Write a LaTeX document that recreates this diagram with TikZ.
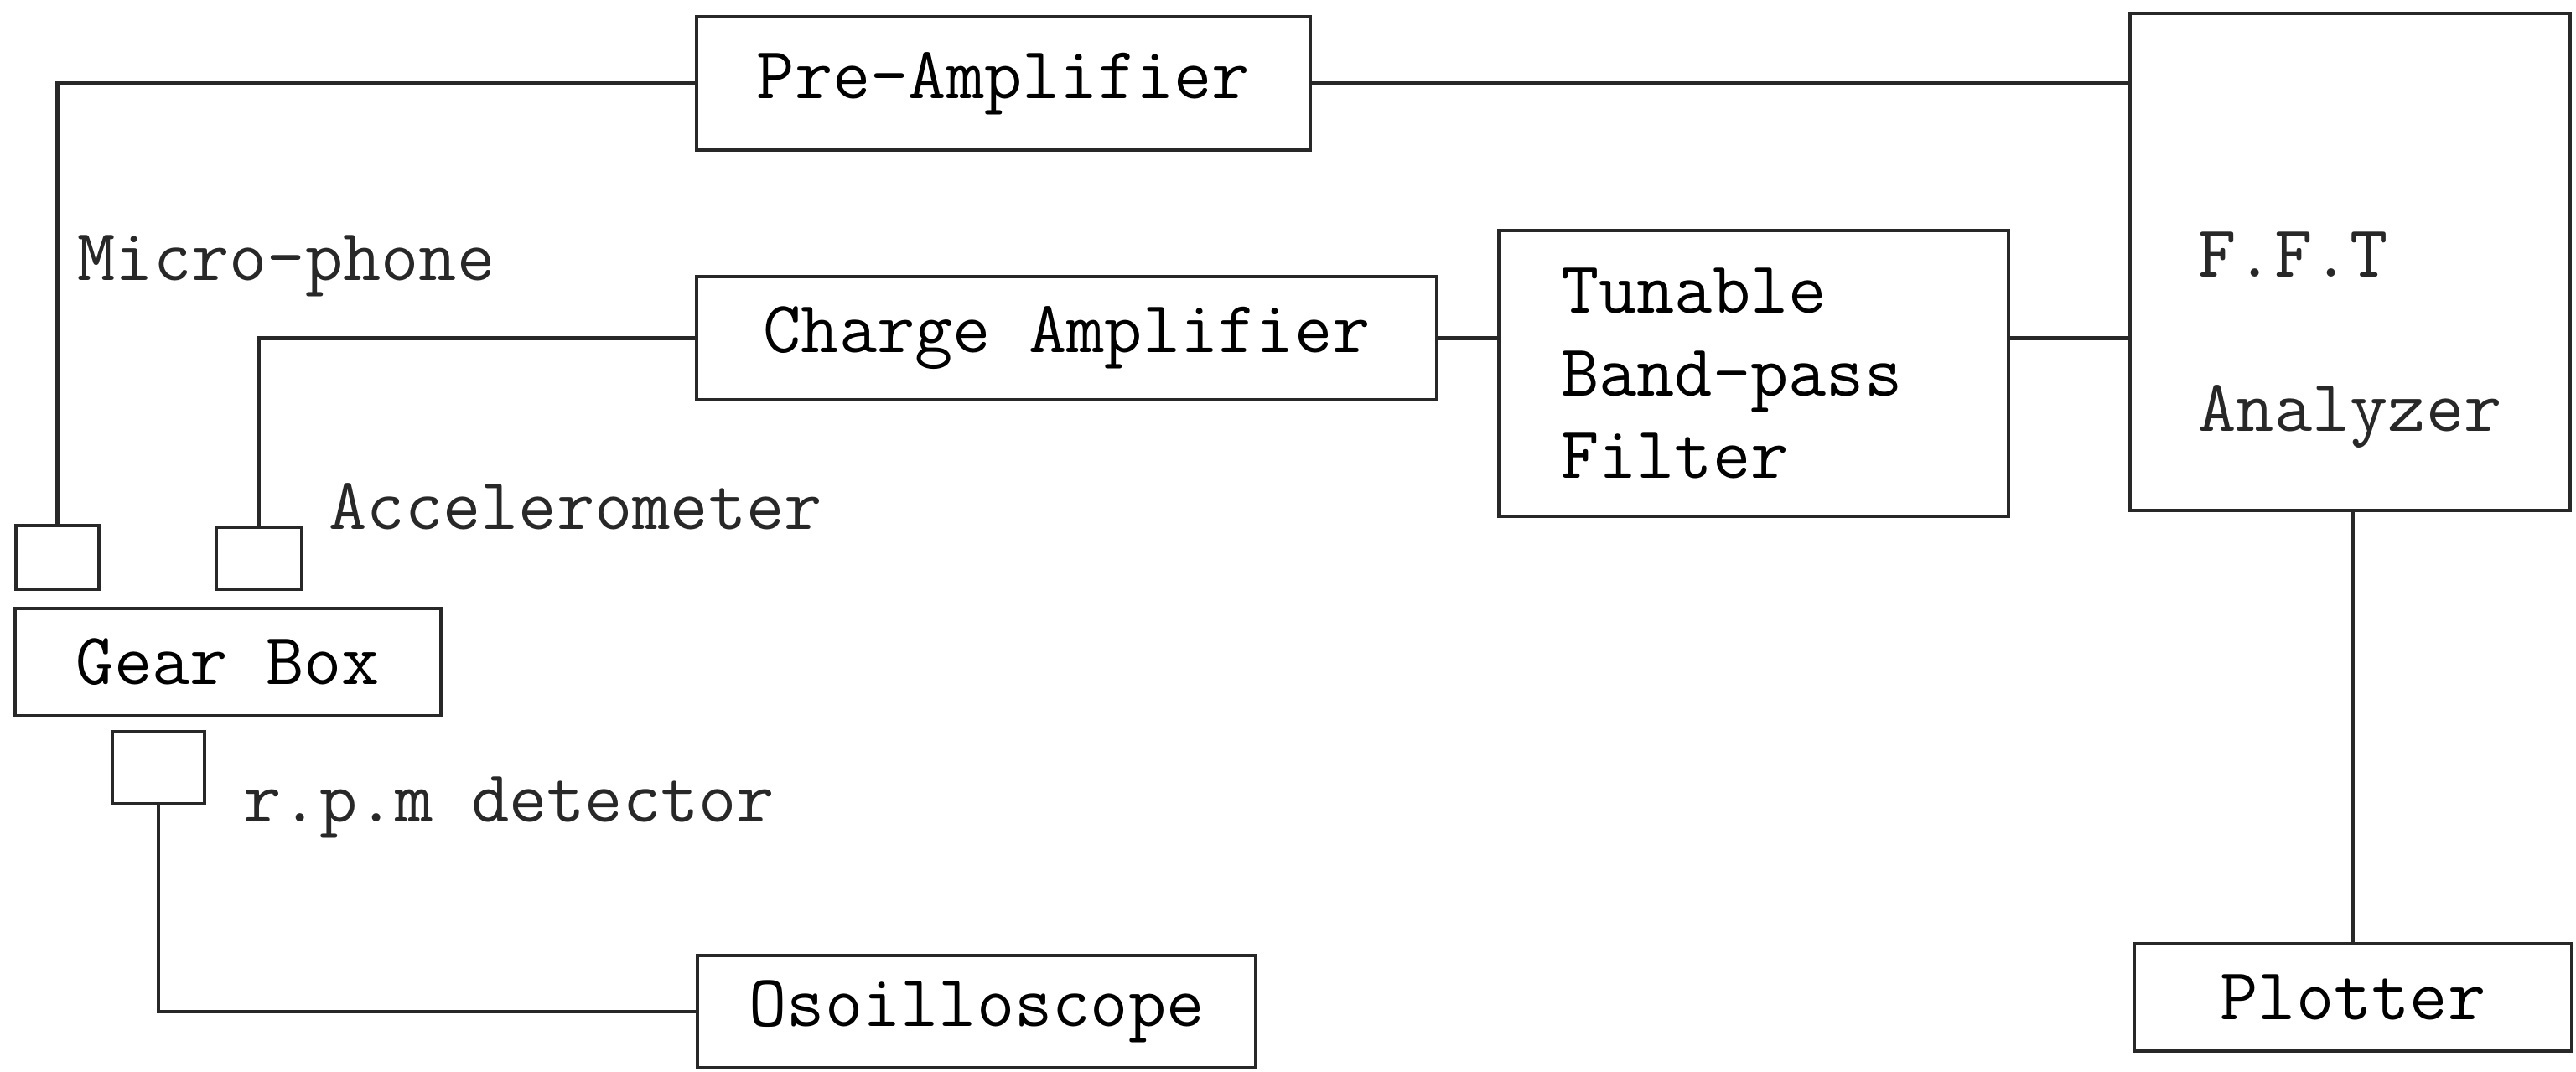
\documentclass[tikz,border=0pt]{standalone}
\usepackage{tikz}
\usetikzlibrary{positioning,calc}
\definecolor{ink}{RGB}{40,40,40}
\tikzset{
  unit/.style={draw=ink,line width=1.4pt,inner sep=0pt,align=center,
    font=\ttfamily\fontsize{25}{28}\selectfont},
  sensor/.style={draw=ink,line width=1.4pt,inner sep=0pt},
  lbl/.style={inner sep=0pt,anchor=base west,text=ink,
    font=\ttfamily\fontsize{25}{28}\selectfont},
  wire/.style={ink,line width=1.4pt},
}

\begin{document}
\begin{tikzpicture}
\useasboundingbox (0,0) rectangle (30.73,12.78);
% instruments
\node[unit,minimum width=7.32cm,minimum height=1.59cm] (pre) at (11.97,11.785) {Pre-Amplifier};
\node[unit,minimum width=8.83cm,minimum height=1.47cm] (charge) at (12.725,8.745) {Charge Amplifier};
\node[unit,align=left,text width=4.6cm,minimum width=6.08cm,minimum height=3.41cm] (filter) at (20.92,8.325) {Tunable\\Band-pass\\Filter};
\node[unit,minimum width=5.25cm,minimum height=5.93cm] (fft) at (28.035,9.655) {};
\node[lbl,anchor=center,align=left] (fftlbl) at ([yshift=-9.3mm]fft.center) {F.F.T\\[8.5mm]Analyzer};
\node[unit,minimum width=5.22cm,minimum height=1.28cm] (plotter) at (28.07,0.88) {Plotter};
\node[unit,minimum width=6.66cm,minimum height=1.34cm] (osc) at (11.65,0.71) {Osoilloscope};
\node[unit,minimum width=5.08cm,minimum height=1.28cm] (gear) at (2.72,4.88) {Gear Box};
% pick-ups on the gear box
\node[sensor,minimum width=0.99cm,minimum height=0.76cm] (mic) at (0.685,6.13) {};
\node[sensor,minimum width=1.02cm,minimum height=0.74cm] (acc) at (3.09,6.12) {};
\node[sensor,minimum width=1.10cm,minimum height=0.86cm] (rpm) at (1.89,3.62) {};
\node[lbl] (miclbl) at (0.92,9.43) {Micro-phone};
\node[lbl] (acclbl) at (3.92,6.46) {Accelerometer};
\node[lbl] (rpmlbl) at (2.90,2.98) {r.p.m detector};
% wiring
\draw[wire] (mic.north) |- (pre.west);
\draw[wire] (acc.north) |- (charge.west);
\draw[wire] (pre.east) -- (pre.east -| fft.west);
\draw[wire] (charge.east) -- (charge.east -| filter.west);
\draw[wire] (filter.east |- charge.east) -- (fft.west |- charge.east);
\draw[wire] (plotter.north) -- (plotter.north |- fft.south);
\draw[wire] (rpm.south) |- (osc.west);
\end{tikzpicture}
\end{document}
